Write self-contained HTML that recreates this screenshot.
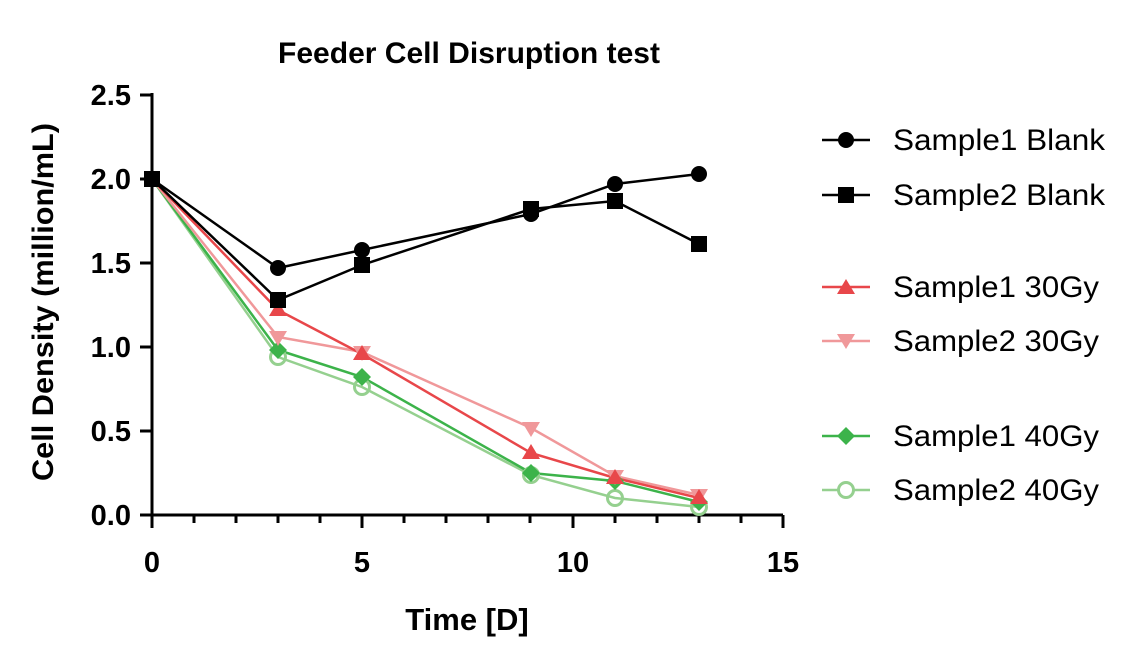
<!DOCTYPE html>
<html><head><style>body{margin:0;background:#fff}svg{display:block}text{font-family:"Liberation Sans",sans-serif}</style></head><body>
<svg width="1134" height="667" viewBox="0 0 1134 667" xmlns="http://www.w3.org/2000/svg">
<text x="469" y="63" text-anchor="middle" font-size="30" font-weight="bold" textLength="382" lengthAdjust="spacingAndGlyphs">Feeder Cell Disruption test</text>
<g stroke="#000" stroke-width="3" fill="none">
<path d="M152,93V515H783"/>
<path d="M140,95H152M140,179H152M140,263H152M140,347H152M140,431H152M140,515H152"/>
<path d="M152,515V528M362,515V528M573,515V528M783,515V528"/>
<path d="M194,515V523M236,515V523M278,515V523M320,515V523M404,515V523M446,515V523M488,515V523M530,515V523M615,515V523M657,515V523M699,515V523M741,515V523"/>
</g>
<g font-size="29" font-weight="bold" text-anchor="end">
<text x="131" y="105">2.5</text><text x="131" y="189">2.0</text><text x="131" y="273">1.5</text><text x="131" y="357">1.0</text><text x="131" y="441">0.5</text><text x="131" y="525">0.0</text>
</g>
<g font-size="29" font-weight="bold" text-anchor="middle">
<text x="152" y="572">0</text><text x="362" y="572">5</text><text x="573" y="572">10</text><text x="783" y="572">15</text>
<text x="467" y="630" font-size="31">Time [D]</text>
<text transform="translate(53,302) rotate(-90)" font-size="30" textLength="358" lengthAdjust="spacingAndGlyphs">Cell Density (million/mL)</text>
</g>
<g fill="none" stroke-width="2.5">
<polyline stroke="#95d08f" points="152,179 278,357 362,387 531,475 615,498 699,507"/>
<polyline stroke="#3cb34a" points="152,179 278,350 362,377 531,473 615,481 699,502"/>
<polyline stroke="#f0989a" points="152,179 278,337 362,352 531,428 615,476 699,495"/>
<polyline stroke="#e8474a" points="152,179 278,310 362,354 531,453 615,478 699,498"/>
<polyline stroke="#000" points="152,179 278,300 362,265 531,209 615,201 699,244"/>
<polyline stroke="#000" points="152,179 278,268 362,250 531,214 615,184 699,174"/>
</g>
<g fill="none" stroke="#95d08f" stroke-width="3">
<circle cx="278" cy="357" r="7.5"/><circle cx="362" cy="387" r="7.5"/><circle cx="531" cy="475" r="7.5"/><circle cx="615" cy="498" r="7.5"/><circle cx="699" cy="507" r="7.5"/>
</g>
<g fill="#3cb34a">
<path d="M278,341l9,9-9,9-9-9z"/><path d="M362,368l9,9-9,9-9-9z"/><path d="M531,464l9,9-9,9-9-9z"/><path d="M615,472l9,9-9,9-9-9z"/><path d="M699,493l9,9-9,9-9-9z"/>
</g>
<g fill="#f0989a">
<path d="M269,331h18l-9,15z"/><path d="M353,346h18l-9,15z"/><path d="M522,422h18l-9,15z"/><path d="M606,470h18l-9,15z"/><path d="M690,489h18l-9,15z"/>
</g>
<g fill="#e8474a">
<path d="M269,316h18l-9,-15z"/><path d="M353,360h18l-9,-15z"/><path d="M522,459h18l-9,-15z"/><path d="M606,484h18l-9,-15z"/><path d="M690,504h18l-9,-15z"/>
</g>
<g fill="#000">
<rect x="270" y="292" width="16" height="16"/><rect x="354" y="257" width="16" height="16"/><rect x="523" y="201" width="16" height="16"/><rect x="607" y="193" width="16" height="16"/><rect x="691" y="236" width="16" height="16"/><rect x="144" y="171" width="16" height="16"/>
<circle cx="278" cy="268" r="8"/><circle cx="362" cy="250" r="8"/><circle cx="531" cy="214" r="8"/><circle cx="615" cy="184" r="8"/><circle cx="699" cy="174" r="8"/>
</g>
<g stroke-width="2.5">
<line x1="822" y1="140" x2="870" y2="140" stroke="#000"/>
<line x1="822" y1="195" x2="870" y2="195" stroke="#000"/>
<line x1="822" y1="287" x2="870" y2="287" stroke="#e8474a"/>
<line x1="822" y1="341" x2="870" y2="341" stroke="#f0989a"/>
<line x1="822" y1="436" x2="870" y2="436" stroke="#3cb34a"/>
<line x1="822" y1="490" x2="870" y2="490" stroke="#95d08f"/>
</g>
<circle cx="846" cy="140" r="8"/>
<rect x="838" y="187" width="16" height="16"/>
<path d="M837,294h18l-9,-15z" fill="#e8474a"/>
<path d="M837,334h18l-9,15z" fill="#f0989a"/>
<path d="M846,427l9,9-9,9-9-9z" fill="#3cb34a"/>
<circle cx="846" cy="490" r="7.5" fill="#fff" stroke="#95d08f" stroke-width="3"/>
<g font-size="30">
<text x="893" y="150" textLength="212" lengthAdjust="spacingAndGlyphs">Sample1 Blank</text>
<text x="893" y="205" textLength="212" lengthAdjust="spacingAndGlyphs">Sample2 Blank</text>
<text x="893" y="297" textLength="206" lengthAdjust="spacingAndGlyphs">Sample1 30Gy</text>
<text x="893" y="351" textLength="206" lengthAdjust="spacingAndGlyphs">Sample2 30Gy</text>
<text x="893" y="446" textLength="206" lengthAdjust="spacingAndGlyphs">Sample1 40Gy</text>
<text x="893" y="500" textLength="206" lengthAdjust="spacingAndGlyphs">Sample2 40Gy</text>
</g>
</svg>
</body></html>
